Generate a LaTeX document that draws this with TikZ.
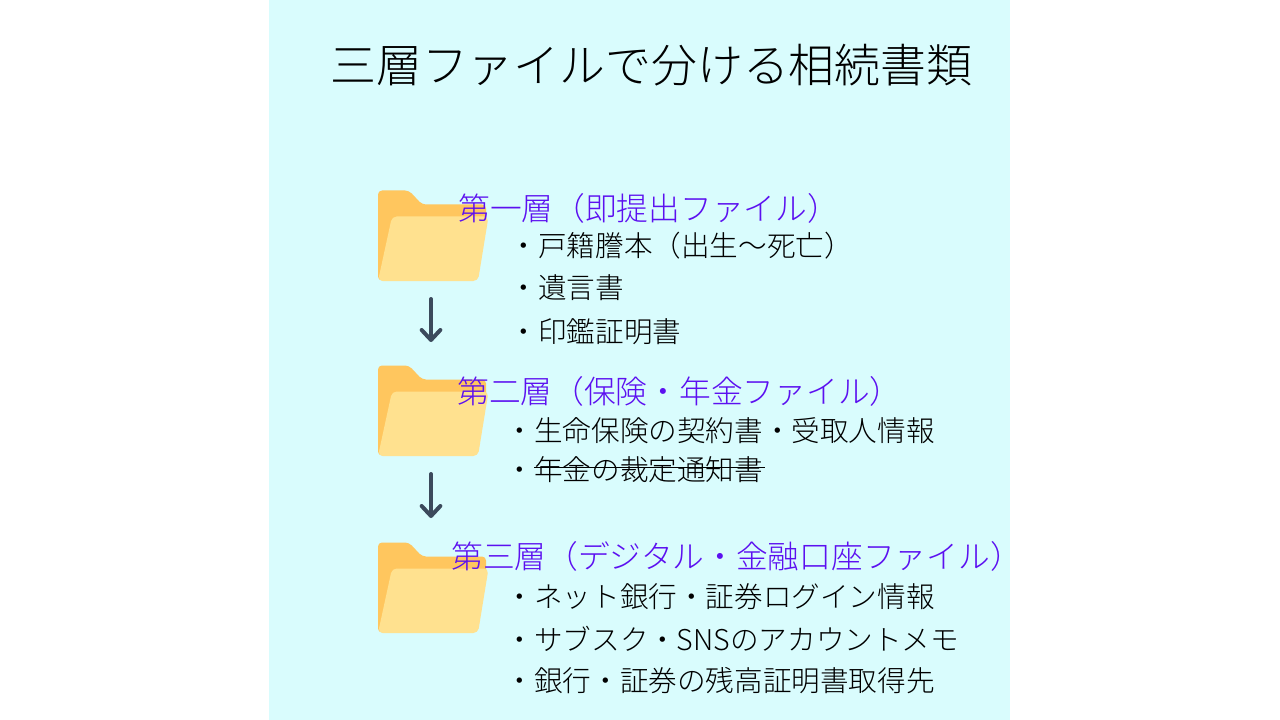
\documentclass[tikz,border=0pt]{standalone}
\usepackage{fontspec}
\usetikzlibrary{arrows.meta}
\newfontfamily\cjk{Noto Sans CJK JP Light}
\definecolor{bgc}{HTML}{D9FCFD}
\definecolor{backc}{HTML}{FFC65E}
\definecolor{frontc}{HTML}{FFE18F}
\definecolor{headc}{HTML}{5C10F0}
\definecolor{arrowc}{HTML}{3C4A5C}
\tikzset{
 x=0.75pt,y=-0.75pt,
 title/.style={anchor=west,inner sep=0,font=\cjk\fontsize{34.4}{35}\selectfont,text=black},
 head/.style={anchor=west,inner sep=0,font=\cjk\fontsize{23.8}{24}\selectfont,text=headc},
 item/.style={anchor=west,inner sep=0,font=\cjk\fontsize{21.45}{22}\selectfont,text=black},
 flow/.style={draw=arrowc,line width=3pt,line cap=round,line join=round,-{Straight Barb[length=7.5pt,width=14pt,line width=3pt,round]}},
 strike/.style={draw=black,line width=0.9pt},
 folder/.pic={
  \fill[backc,rounded corners=3pt] (378,190) -- (409,190) -- (422,204) -- (486,204) -- (486,225) -- (474,279) -- (378,280) -- cycle;
  \fill[frontc,rounded corners=3.5pt] (392,216) -- (488.5,216) -- (478,280.5) -- (378,280.5) -- cycle;
 }
}
\begin{document}
\begin{tikzpicture}
\useasboundingbox (0,0) rectangle (1280,720);
\fill[white] (0,0) rectangle (1280,720);
\fill[bgc] (269,0) rectangle (1010,720);
\pic at (0,0.5) {folder};
\pic at (0,175.5) {folder};
\pic at (0,352.5) {folder};
\node[title] (t) at (330,65) {三層ファイルで分ける相続書類};
\node[head] (h1) at (458,208.5) {第一層（即提出ファイル）};
\node[item] (a1) at (509.5,246) {・戸籍謄本（出生〜死亡）};
\node[item] (a2) at (509.5,288) {・遺言書};
\node[item] (a3) at (509.5,332) {・印鑑証明書};
\node[head] (h2) at (457,391.5) {第二層（保険・年金ファイル）};
\node[item] (b1) at (505.5,431) {・生命保険の契約書・受取人情報};
\node[item] (b2) at (505.5,470) {・年金の裁定通知書};
\node[head] (h3) at (451,556.5) {第三層（デジタル・金融口座ファイル）};
\node[item] (c1) at (505.5,597) {・ネット銀行・証券ログイン情報};
\node[item] (c2) at (505.5,639) {・サブスク・SNSのアカウントメモ};
\node[item] (c3) at (505.5,681) {・銀行・証券の残高証明書取得先};
\coordinate (s1) at (431,299); \coordinate (e1) at (431,342);
\coordinate (s2) at (431,474); \coordinate (e2) at (431,518);
\coordinate (ss) at (534,467.5); \coordinate (se) at (765,467.5);
\draw[flow] (s1) -- (e1);
\draw[flow] (s2) -- (e2);
\draw[strike] (ss) -- (se);
\end{tikzpicture}
\end{document}
